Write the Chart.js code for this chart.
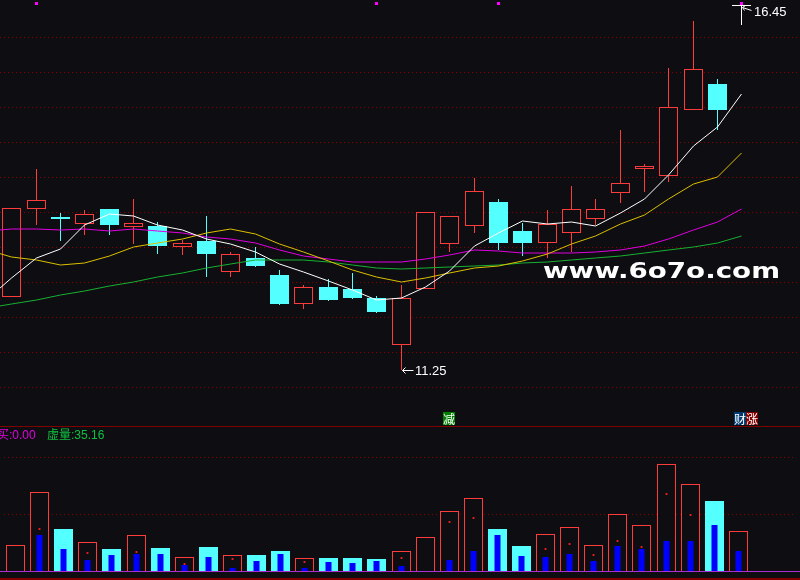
<!DOCTYPE html>
<html>
<head>
<meta charset="utf-8">
<script src="https://cdn.jsdelivr.net/npm/chart.js@4.4.1/dist/chart.umd.min.js"></script>
<style>
    html, body { margin: 0; padding: 0; background: #0e0e12; overflow: hidden; }
    #wrap { position: relative; width: 800px; height: 580px; }
    canvas { position: absolute; left: 0; }
    #priceChart { top: 0; }
    #volChart { top: 426px; }
</style>
</head>
<body>
<div id="wrap">
    <canvas id="priceChart" width="800" height="426"></canvas>
    <canvas id="volChart" width="800" height="154"></canvas>
</div>
<script>
// daily candles, oldest first
const openP  = [12.29, 13.54, 13.43, 13.33, 13.54, 13.29, 13.30, 13.00, 13.09, 12.64, 12.84, 12.60, 12.19, 12.43, 12.40, 12.27, 11.60, 12.40, 13.04, 13.30, 13.64, 13.23, 13.06, 13.20, 13.40, 13.77, 14.11, 14.01, 14.96, 15.33, 16.45];
const closeP = [13.56, 13.67, 13.40, 13.47, 13.31, 13.34, 13.01, 13.06, 12.90, 12.90, 12.73, 12.19, 12.43, 12.24, 12.27, 12.07, 12.27, 13.50, 13.44, 13.80, 13.06, 13.06, 13.33, 13.54, 13.54, 13.91, 14.16, 15.00, 15.54, 14.96, 16.45];
const highP  = [13.56, 14.11, 13.49, 13.53, 13.54, 13.69, 13.36, 13.10, 13.44, 12.93, 13.00, 12.67, 12.46, 12.54, 12.63, 12.30, 12.46, 13.50, 13.44, 13.99, 13.69, 13.34, 13.53, 13.87, 13.69, 14.67, 14.19, 15.56, 16.23, 15.40, 16.45];
const lowP   = [12.29, 13.31, 13.09, 13.17, 13.17, 13.04, 12.90, 12.89, 12.57, 12.57, 12.71, 12.17, 12.11, 12.23, 12.26, 12.06, 11.25, 12.40, 12.93, 13.20, 12.96, 12.87, 12.84, 12.93, 13.31, 13.63, 13.79, 13.93, 14.96, 14.67, 16.17];

// moving averages, first value is the day before the window
const ma5  = [12.26, 12.56, 12.84, 12.97, 13.31, 13.47, 13.44, 13.31, 13.24, 13.11, 13.04, 12.93, 12.76, 12.64, 12.51, 12.39, 12.24, 12.27, 12.43, 12.66, 13.01, 13.20, 13.37, 13.33, 13.36, 13.30, 13.49, 13.69, 14.03, 14.44, 14.71, 15.19];
const ma10 = [12.96, 12.86, 12.81, 12.74, 12.77, 12.87, 13.00, 13.06, 13.12, 13.20, 13.26, 13.19, 13.04, 12.93, 12.80, 12.67, 12.57, 12.50, 12.56, 12.63, 12.70, 12.73, 12.80, 12.90, 13.04, 13.16, 13.33, 13.46, 13.69, 13.90, 14.00, 14.34];
const ma20 = [13.23, 13.26, 13.26, 13.24, 13.26, 13.23, 13.26, 13.23, 13.20, 13.14, 13.11, 13.06, 12.96, 12.87, 12.83, 12.79, 12.79, 12.79, 12.83, 12.89, 12.96, 12.94, 12.91, 12.91, 12.91, 12.93, 12.96, 13.01, 13.11, 13.24, 13.36, 13.54];
const ma60 = [12.13, 12.19, 12.24, 12.31, 12.37, 12.44, 12.50, 12.57, 12.63, 12.70, 12.76, 12.81, 12.81, 12.81, 12.79, 12.74, 12.70, 12.69, 12.70, 12.71, 12.73, 12.74, 12.77, 12.79, 12.81, 12.84, 12.87, 12.91, 12.96, 13.00, 13.06, 13.16];

// volume panel
const volume   = [9.3, 27.7, 14.7, 10.3, 8.0, 12.7, 8.3, 5.0, 8.7, 5.7, 5.7, 7.0, 4.7, 4.7, 4.7, 4.3, 7.0, 12.0, 21.3, 25.7, 14.7, 9.0, 13.0, 15.7, 9.3, 20.0, 16.3, 37.7, 30.7, 24.7, 14.0];
const virtVol  = [0, 12.7, 7.7, 4.0, 5.7, 6.0, 6.0, 2.3, 5.0, 1.3, 3.7, 6.0, 1.3, 3.3, 3.0, 3.7, 2.0, 0, 4.0, 7.0, 12.7, 5.3, 5.0, 6.0, 3.7, 9.0, 7.7, 10.7, 10.7, 16.3, 7.0];
const buyDots  = [null, 14.7, null, 6.3, null, 6.7, null, 2.7, null, 4.3, null, null, 3.3, null, null, null, 4.7, null, 17.3, 18.7, null, null, 8.0, 9.7, 5.7, 10.7, 8.7, 27.0, 19.7, null, null];

const priceGrid = [11, 11.5, 12, 12.5, 13, 13.5, 14, 14.5, 15, 15.5, 16];
const volGrid = [20, 40];
const topMarkDays = [1, 15, 20, 30];
const signalMarks = [
    {day: 18, text: '减', color: '#008000', dx: -6},
    {day: 30, text: '财', color: '#003a70', dx: -7},
    {day: 30, text: '涨', color: '#800000', dx: 5}
];
const legendBuy = '买:0.00';
const legendVirt = '虚量:35.16';
const watermark = 'www.6o7o.com';

const bg = '#0e0e12';
const upRed = '#ff3c3c';
const downCyan = '#54ffff';

const days = openP.map((v, i) => i);

function candleColor(i) {
    if (closeP[i] > openP[i]) return upRed;
    if (closeP[i] < openP[i]) return downCyan;
    return '#ffffff';
}

function volColor(i) {
    return closeP[i] >= openP[i] ? upRed : downCyan;
}

// put every day on the middle of a pixel column so 1px borders stay sharp
function snapColumns(scale) {
    if (scale.$snapped) return;
    const base = scale.getPixelForValue;
    scale.getPixelForValue = function (v, i) {
        return Math.floor(base.call(this, v, i)) + 0.5;
    };
    scale.$snapped = true;
}

function xAxis() {
    return {type: 'linear', display: false, min: -0.483, max: 32.394, offset: false, stacked: true, afterUpdate: snapColumns};
}

function maLine(values, color) {
    return {
        type: 'line',
        data: values.map((v, i) => ({x: i - 1, y: v})),
        borderColor: color,
        borderWidth: 1,
        pointRadius: 0,
        tension: 0,
        order: 0
    };
}

const dottedGrid = {
    id: 'dottedGrid',
    beforeDatasetsDraw(chart, args, opts) {
        const {ctx, chartArea, scales} = chart;
        ctx.save();
        ctx.strokeStyle = '#8a0000';
        ctx.lineWidth = 1;
        ctx.setLineDash([1, 3]);
        opts.levels.forEach(v => {
            const y = Math.round(scales.y.getPixelForValue(v)) + 0.5;
            ctx.beginPath();
            ctx.moveTo(chartArea.left, y);
            ctx.lineTo(chartArea.right, y);
            ctx.stroke();
        });
        ctx.restore();
    }
};

const priceOverlay = {
    id: 'priceOverlay',
    afterDatasetsDraw(chart) {
        const {ctx, scales} = chart;
        const x = scales.x, y = scales.y;
        ctx.save();

        // watermark
        ctx.font = 'bold 22px "DejaVu Sans"';
        ctx.fillStyle = '#ffffff';
        ctx.textBaseline = 'alphabetic';
        const w = ctx.measureText(watermark).width;
        ctx.save();
        ctx.translate(543, 278);
        ctx.scale(237 / w, 1);
        ctx.fillText(watermark, 0, 0);
        ctx.restore();

        // lowest / highest price markers
        let lo = 0, hi = 0;
        days.forEach(i => {
            if (lowP[i] < lowP[lo]) lo = i;
            if (highP[i] > highP[hi]) hi = i;
        });
        ctx.strokeStyle = '#ffffff';
        ctx.fillStyle = '#ffffff';
        ctx.lineWidth = 1;
        ctx.font = '13px "Liberation Sans"';
        ctx.textBaseline = 'middle';

        let px = x.getPixelForValue(lo);
        let py = y.getPixelForValue(lowP[lo]) + 0.5;
        ctx.beginPath();
        ctx.moveTo(px + 1, py); ctx.lineTo(px + 12, py);
        ctx.moveTo(px + 1, py); ctx.lineTo(px + 4, py - 3);
        ctx.moveTo(px + 1, py); ctx.lineTo(px + 4, py + 3);
        ctx.stroke();
        ctx.fillText(lowP[lo].toFixed(2), px + 13.5, py + 1);

        px = x.getPixelForValue(hi);
        py = y.getPixelForValue(highP[hi]) + 0.5;
        ctx.beginPath();
        ctx.moveTo(px + 1, py + 1); ctx.lineTo(px + 10, py + 4);
        ctx.moveTo(px + 1, py + 1); ctx.lineTo(px + 4, py - 1);
        ctx.moveTo(px + 1, py + 1); ctx.lineTo(px + 3, py + 4);
        ctx.stroke();
        ctx.fillText(highP[hi].toFixed(2), px + 12.5, py + 6);

        // small markers on top edge
        ctx.fillStyle = '#ff00ff';
        topMarkDays.forEach(d => {
            ctx.fillRect(Math.floor(x.getPixelForValue(d)) - 1, 2, 3, 3);
        });

        // signal boxes above the volume panel
        ctx.font = '12px "Noto Sans CJK SC"';
        ctx.textBaseline = 'middle';
        signalMarks.forEach(m => {
            const bx = Math.floor(x.getPixelForValue(m.day)) + m.dx;
            ctx.fillStyle = m.color;
            ctx.fillRect(bx, 412, 12, 13);
            ctx.fillStyle = '#ffffff';
            ctx.fillText(m.text, bx, 419);
        });
        ctx.restore();
    }
};

const volOverlay = {
    id: 'volOverlay',
    afterDatasetsDraw(chart) {
        const {ctx, scales} = chart;
        ctx.save();
        ctx.fillStyle = '#800000';
        ctx.fillRect(0, 0, 800, 1);
        ctx.fillRect(0, 152, 800, 2);
        ctx.fillStyle = '#a830d0';
        ctx.fillRect(0, Math.round(scales.y.getPixelForValue(0)), 800, 1);

        ctx.font = '12px "Liberation Sans", "Noto Sans CJK SC"';
        ctx.textBaseline = 'middle';
        ctx.fillStyle = '#e000e0';
        ctx.fillText(legendBuy, -3, 10);
        ctx.fillStyle = '#10c040';
        ctx.fillText(legendVirt, 47, 10);
        ctx.restore();
    }
};

window.addEventListener("load", function () {
    new Chart(document.getElementById("priceChart"), {
        type: 'bar',
        data: {
            datasets: [
                maLine(ma5, '#ffffff'),
                maLine(ma10, '#dcc000'),
                maLine(ma20, '#e000e0'),
                maLine(ma60, '#18b030'),
                {
                    data: days.map(i => ({x: i, y: [openP[i], closeP[i]]})),
                    backgroundColor: days.map(i => closeP[i] > openP[i] ? bg : candleColor(i)),
                    borderColor: days.map(i => candleColor(i)),
                    borderWidth: 1,
                    borderSkipped: false,
                    barThickness: 19,
                    minBarLength: 1,
                    inflateAmount: 0,
                    stack: 'k',
                    order: 1
                },
                {
                    data: days.map(i => ({x: i, y: [lowP[i], highP[i]]})),
                    backgroundColor: days.map(i => candleColor(i)),
                    borderWidth: 0,
                    barThickness: 1,
                    inflateAmount: 0,
                    stack: 'k',
                    order: 2
                }
            ]
        },
        options: {
            responsive: false,
            animation: false,
            events: [],
            layout: {padding: 0},
            scales: {
                x: xAxis(),
                y: {display: false, min: 10.443, max: 16.529, stacked: false, alignToPixels: true}
            },
            plugins: {
                legend: {display: false},
                tooltip: {enabled: false},
                dottedGrid: {levels: priceGrid}
            }
        },
        plugins: [dottedGrid, priceOverlay]
    });

    new Chart(document.getElementById("volChart"), {
        type: 'bar',
        data: {
            datasets: [
                {
                    type: 'line',
                    data: days.map(i => ({x: i, y: buyDots[i]})),
                    showLine: false,
                    pointStyle: 'rect',
                    pointRadius: 1.3,
                    pointBorderWidth: 0,
                    pointBackgroundColor: '#ff2020',
                    order: 0
                },
                {
                    data: days.map(i => ({x: i, y: virtVol[i]})),
                    backgroundColor: '#0000ff',
                    borderWidth: 0,
                    barThickness: 6,
                    inflateAmount: 0,
                    stack: 'k',
                    order: 1
                },
                {
                    data: days.map(i => ({x: i, y: volume[i]})),
                    backgroundColor: days.map(i => volColor(i) === upRed ? bg : downCyan),
                    borderColor: days.map(i => volColor(i)),
                    borderWidth: 1,
                    barThickness: 19,
                    inflateAmount: 0,
                    stack: 'k',
                    order: 2
                }
            ]
        },
        options: {
            responsive: false,
            animation: false,
            events: [],
            layout: {padding: 0},
            scales: {
                x: xAxis(),
                y: {display: false, min: -1.667, max: 49.667, stacked: false, alignToPixels: true}
            },
            plugins: {
                legend: {display: false},
                tooltip: {enabled: false},
                dottedGrid: {levels: volGrid}
            }
        },
        plugins: [dottedGrid, volOverlay]
    });
});
</script>
</body>
</html>
